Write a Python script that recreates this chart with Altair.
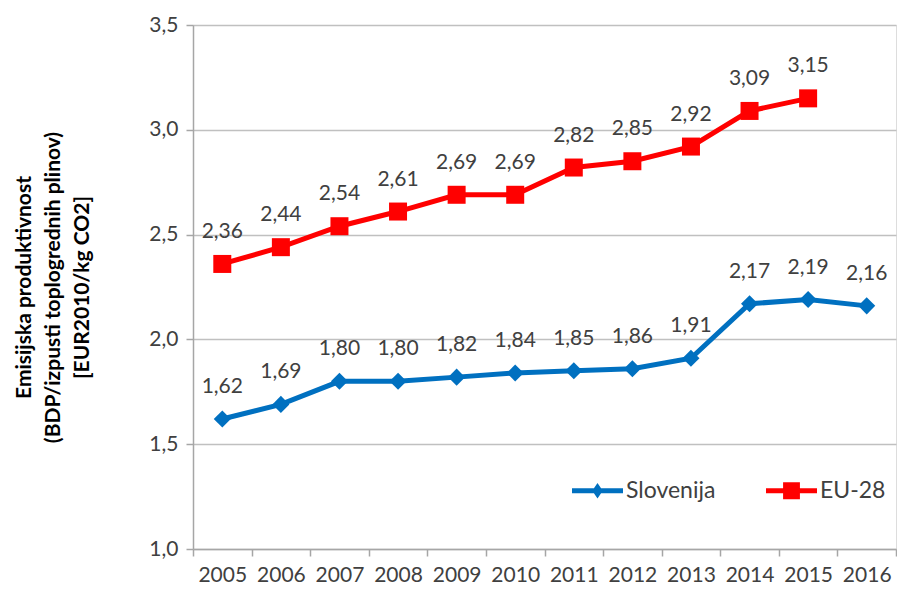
import altair as alt
import pandas as pd

years = [str(y) for y in range(2005, 2017)]
slovenija = [1.62, 1.69, 1.80, 1.80, 1.82, 1.84, 1.85, 1.86, 1.91, 2.17, 2.19, 2.16]
eu28 = [2.36, 2.44, 2.54, 2.61, 2.69, 2.69, 2.82, 2.85, 2.92, 3.09, 3.15, None]
series_names = ["Slovenija", "EU-28"]
series_colors = ["#0070C0", "#FF0000"]
y_title = ["Emisijska produktivnost", "(BDP/izpusti toplogrednih plinov)", "[EUR2010/kg CO2]"]

rows = []
for name, vals in zip(series_names, [slovenija, eu28]):
    for yr, v in zip(years, vals):
        if v is not None:
            rows.append({"year": yr, "value": v, "series": name,
                         "label": f"{v:.2f}".replace(".", ",")})
df = pd.DataFrame(rows)

FONT = "Lato"
TXT = "#404040"

# legend symbols: line with marker (custom paths in unit square)
sl_path = ("M-1,-0.1 L-0.14,-0.1 L0,-0.3 L0.14,-0.1 L1,-0.1 L1,0.1 "
           "L0.14,0.1 L0,0.3 L-0.14,0.1 L-1,0.1 Z")
eu_path = ("M-1,-0.1 L-0.33,-0.1 L-0.33,-0.33 L0.33,-0.33 L0.33,-0.1 L1,-0.1 "
           "L1,0.1 L0.33,0.1 L0.33,0.33 L-0.33,0.33 L-0.33,0.1 L-1,0.1 Z")

x_enc = alt.X("year:O", scale=alt.Scale(type="band", paddingInner=0, paddingOuter=0),
              axis=alt.Axis(title=None, tickBand="extent", labelAngle=0, labelFont=FONT,
                            labelFontSize=21, labelColor=TXT, labelPadding=8,
                            tickSize=7, tickColor="#A6A6A6", domainColor="#A6A6A6",
                            domainWidth=1.5, tickWidth=1.5, grid=False))
y_enc = alt.Y("value:Q", scale=alt.Scale(domain=[1.0, 3.5], nice=False, zero=False),
              axis=alt.Axis(title=y_title, values=[1.0, 1.5, 2.0, 2.5, 3.0, 3.5],
                            labelExpr="replace(format(datum.value, '.1f'), '.', ',')",
                            labelFont=FONT, labelFontSize=21, labelColor=TXT, labelPadding=8,
                            tickSize=7, tickColor="#A6A6A6", domainColor="#A6A6A6",
                            domainWidth=1.5, tickWidth=1.5,
                            grid=True, gridColor="#C0C0C0", gridWidth=1.5,
                            titleFont=FONT, titleFontSize=21, titleFontWeight="bold",
                            titleColor="#000000", titleLineHeight=29, titlePadding=56,
                            titleY=262))

base = alt.Chart(df)

leg = alt.Legend(title=None, orient="none", legendX=379, legendY=440, direction="horizontal",
                 symbolSize=2601, symbolOpacity=1, labelFont=FONT, labelFontSize=23,
                 labelColor=TXT, labelOffset=3, columnPadding=50, padding=0,
                 symbolStrokeWidth=0)

legend_layer = base.mark_point(filled=True, opacity=0, size=1).encode(
    x=x_enc, y=y_enc,
    color=alt.Color("series:N", scale=alt.Scale(domain=series_names, range=series_colors),
                    legend=leg),
    shape=alt.Shape("series:N", scale=alt.Scale(domain=series_names, range=[sl_path, eu_path]),
                    legend=leg))

layers = [legend_layer]
for name, col in zip(series_names, series_colors):
    sub = base.transform_filter(alt.datum.series == name)
    layers.append(sub.mark_line(strokeWidth=5, color=col).encode(x=x_enc, y=y_enc))
for name, col, shp, sz in zip(series_names, series_colors, ["diamond", "square"], [290, 324]):
    sub = base.transform_filter(alt.datum.series == name)
    layers.append(sub.mark_point(shape=shp, filled=True, size=sz, opacity=1, color=col)
                  .encode(x=x_enc, y=y_enc))

labels = base.mark_text(font=FONT, fontSize=21, color=TXT, baseline="alphabetic",
                        dy=-26).encode(x=x_enc, y=y_enc, text="label:N")
layers.append(labels)

chart = alt.layer(*layers).properties(
    width=889, height=577,
    autosize=alt.AutoSizeParams(type="fit", contains="padding"),
    padding={"left": 5, "top": 6, "right": 0, "bottom": 0},
).configure_view(stroke=None).configure(font=FONT)

chart.save("out.html", embed_options={"renderer": "svg", "actions": False})
